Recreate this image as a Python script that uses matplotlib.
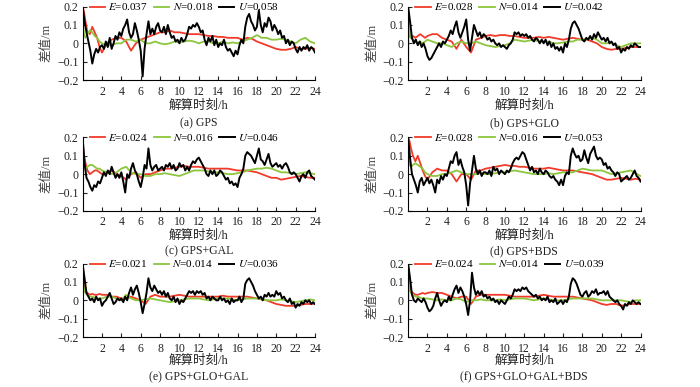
import matplotlib
matplotlib.use('Agg')
import matplotlib.pyplot as plt
import numpy as np
from matplotlib.ticker import FuncFormatter

plt.rcParams['font.family'] = ['Liberation Serif', 'Noto Sans CJK SC']
plt.rcParams['mathtext.fontset'] = 'stix'
plt.rcParams['axes.unicode_minus'] = True

# time grids (h)
t_u = np.arange(0, 24.01, 0.2)
t_en = [0, 0.05, 0.15, 0.3, 0.5, 0.75, 1.0, 1.25, 1.5, 1.75, 2.0] + list(np.arange(2.5, 24.01, 0.5))

captions = ['(a) GPS', '(b) GPS+GLO', '(c) GPS+GAL', '(d) GPS+BDS',
            '(e) GPS+GLO+GAL', '(f) GPS+GLO+GAL+BDS']
rms_e = [0.037, 0.028, 0.024, 0.028, 0.021, 0.024]
rms_n = [0.018, 0.014, 0.016, 0.016, 0.014, 0.014]
rms_u = [0.058, 0.042, 0.046, 0.053, 0.036, 0.039]

# (a) GPS
u_a = [0.20, 0.12, 0.06, 0.01, -0.04, -0.11, -0.06, -0.03, -0.05, -0.02,
       -0.01, -0.03, 0.01, -0.02, 0.03, -0.03, 0.0, 0.04, 0.02, 0.06,
       0.04, 0.08, 0.10, 0.13, 0.06, 0.03, 0.05, 0.11, 0.07, 0.02,
       -0.04, -0.18, -0.03, 0.05, 0.12, 0.05, 0.08, 0.05, 0.09, 0.11,
       0.07, 0.06, 0.09, 0.05, 0.10, 0.06, 0.03, 0.04, 0.01, 0.02,
       0.0, 0.03, 0.01, 0.02, 0.05, 0.09, 0.08, 0.10, 0.09, 0.11,
       0.09, 0.06, 0.07, 0.02, -0.01, 0.03, 0.01, 0.04, -0.01, 0.02,
       -0.02, 0.0, -0.01, 0.02, -0.02, -0.04, -0.03, -0.05, -0.07, -0.04,
       -0.06, -0.01, 0.02, 0.0, 0.09, 0.14, 0.16, 0.12, 0.10, 0.07,
       0.09, 0.18, 0.10, 0.06, 0.11, 0.09, 0.14, 0.12, 0.07, 0.10,
       0.08, 0.05, 0.07, 0.03, 0.04, 0.0, 0.02, -0.01, 0.01, 0.0,
       -0.03, -0.05, -0.02, -0.04, -0.02, -0.03, -0.01, -0.04, -0.02, -0.03,
       -0.05]
e_a = [0.2, 0.19, 0.17, 0.12, 0.06, 0.05, 0.09, 0.06, 0.03, -0.02, -0.05,
       0.0, 0.02, 0.03, 0.03, 0.01, -0.04, 0.0, 0.02, 0.03, 0.04,
       0.05, 0.06, 0.06, 0.07, 0.06, 0.06, 0.055, 0.05, 0.05, 0.05,
       0.045, 0.04, 0.04, 0.035, 0.035, 0.03, 0.03, 0.03, 0.02, 0.03,
       0.025, 0.01, 0.0, -0.01, -0.02, -0.03, -0.035, -0.035, -0.03, -0.02,
       -0.03, -0.03, -0.025, -0.03]
n_a = [0.2, 0.1, 0.05, 0.03, 0.05, 0.07, 0.06, 0.04, 0.03, 0.01, 0.0,
       -0.01, -0.01, 0.0, 0.0, 0.02, 0.02, 0.01, 0.02, 0.0, 0.0,
       0.01, 0.0, -0.005, 0.0, 0.01, 0.005, 0.01, 0.015, 0.01, 0.0,
       0.01, 0.01, 0.0, 0.0, 0.01, 0.0, 0.005, 0.0, 0.01, 0.02,
       0.03, 0.045, 0.03, 0.03, 0.02, 0.02, 0.025, 0.02, 0.01, 0.0,
       0.02, 0.03, 0.01, 0.0]

# (b) GPS+GLO
u_b = [0.20, 0.12, 0.03, 0.0, 0.02, -0.01, 0.01, -0.02, 0.0, -0.03,
       -0.07, -0.09, -0.08, -0.06, -0.04, -0.02, 0.0, -0.02, 0.01, 0.0,
       0.02, 0.04, 0.07, 0.05, 0.09, 0.12, 0.06, 0.03, 0.06, 0.09,
       0.13, 0.02, -0.04, 0.03, 0.10, 0.07, 0.04, 0.06, 0.03, 0.05,
       0.04, 0.02, 0.03, 0.01, 0.02, 0.0, -0.01, 0.0, -0.02, -0.01,
       -0.02, -0.03, -0.01, 0.0, 0.02, 0.06, 0.05, 0.06, 0.04, 0.05,
       0.04, 0.05, 0.03, 0.04, 0.02, 0.01, 0.03, 0.02, 0.0, 0.02,
       0.0, 0.02, -0.01, 0.01, -0.02, 0.0, -0.03, -0.02, -0.04, -0.02,
       -0.05, 0.0, -0.02, 0.02, 0.08, 0.11, 0.12, 0.10, 0.08, 0.05,
       0.02, 0.01, 0.03, 0.02, 0.04, 0.02, 0.05, 0.03, 0.06, 0.04,
       0.02, 0.03, 0.01, 0.03, 0.0, 0.01, -0.01, 0.0, -0.03, -0.02,
       -0.05, -0.03, -0.04, -0.02, -0.03, -0.01, -0.02, 0.0, -0.01, -0.02,
       -0.02]
e_b = [0.2, 0.08, 0.04, 0.03, 0.04, 0.03, 0.04, 0.05, 0.04, 0.03, 0.04,
       0.05, 0.05, 0.03, 0.02, 0.01, -0.03, 0.02, -0.02, -0.05, 0.02,
       0.03, 0.04, 0.045, 0.04, 0.045, 0.045, 0.04, 0.04, 0.035, 0.03,
       0.03, 0.03, 0.035, 0.03, 0.035, 0.03, 0.025, 0.02, 0.025, 0.03,
       0.025, 0.02, 0.02, 0.01, 0.0, -0.02, -0.03, -0.035, -0.03, -0.03,
       -0.025, -0.02, -0.02, -0.02]
n_b = [-0.15, 0.1, 0.06, 0.03, 0.02, 0.01, 0.0, 0.01, 0.0, 0.01, 0.02,
       0.01, 0.0, 0.0, -0.01, -0.02, 0.0, 0.01, 0.0, 0.0, 0.01,
       0.0, -0.01, -0.015, -0.02, -0.015, -0.01, 0.0, 0.02, 0.015, 0.01,
       0.015, 0.02, 0.01, 0.01, 0.01, 0.0, 0.0, 0.005, 0.01, 0.01,
       0.02, 0.02, 0.025, 0.03, 0.02, 0.0, 0.0, 0.005, -0.01, -0.02,
       -0.01, 0.0, 0.0, 0.0]

# (c) GPS+GAL
u_c = [0.20, 0.06, -0.02, -0.04, -0.07, -0.09, -0.06, -0.07, -0.04, -0.05,
       -0.02, 0.01, -0.01, 0.02, 0.0, 0.04, 0.01, -0.02, 0.0, -0.02,
       0.01, -0.04, -0.10, 0.0, -0.02, 0.03, 0.06, 0.02, 0.0, -0.04,
       -0.07, -0.02, 0.05, 0.03, 0.14, 0.05, 0.02, 0.04, 0.05, 0.02,
       0.03, 0.04, 0.02, 0.05, 0.04, 0.06, 0.03, 0.05, 0.02, 0.03,
       0.06, 0.04, 0.05, 0.02, 0.04, 0.02, 0.05, 0.07, 0.06, 0.08,
       0.09, 0.07, 0.05, 0.03, 0.0, -0.01, 0.02, 0.0, 0.02, -0.01,
       0.0, 0.02, 0.01, -0.01, -0.03, -0.02, -0.05, -0.04, -0.06, -0.05,
       -0.07, -0.02, 0.0, 0.03, 0.10, 0.12, 0.11, 0.10, 0.08, 0.06,
       0.10, 0.14, 0.08, 0.07, 0.05, 0.08, 0.11, 0.06, 0.04, 0.05,
       0.06, 0.04, 0.05, 0.03, 0.05, 0.06, 0.04, 0.01, 0.0, 0.01,
       0.0, -0.02, -0.04, -0.01, 0.0, -0.02, 0.01, 0.02, -0.01, -0.02,
       -0.03]
e_c = [0.2, 0.15, 0.1, 0.06, 0.02, 0.0, 0.01, 0.02, 0.02, 0.01, 0.0,
       0.01, 0.02, 0.0, -0.01, -0.03, 0.0, 0.01, -0.02, 0.0, 0.0,
       0.01, 0.02, 0.03, 0.03, 0.035, 0.04, 0.045, 0.04, 0.04, 0.04,
       0.035, 0.03, 0.03, 0.03, 0.03, 0.03, 0.025, 0.02, 0.02, 0.02,
       0.015, 0.01, 0.0, -0.01, -0.02, -0.02, -0.03, -0.025, -0.02, -0.015,
       -0.01, -0.015, -0.02, -0.02]
n_c = [0.2, 0.08, 0.04, 0.03, 0.04, 0.05, 0.05, 0.04, 0.03, 0.03, 0.02,
       0.01, 0.0, 0.01, 0.03, 0.04, 0.01, 0.0, 0.0, -0.01, -0.01,
       0.0, 0.0, 0.005, 0.0, -0.005, -0.01, 0.0, 0.01, 0.02, 0.02,
       0.02, 0.015, 0.01, 0.01, 0.005, 0.0, 0.0, 0.005, 0.01, 0.02,
       0.025, 0.03, 0.03, 0.035, 0.03, 0.02, 0.01, 0.01, 0.005, 0.0,
       0.005, 0.01, 0.005, 0.0]

# (d) GPS+BDS
u_d = [0.20, 0.09, 0.0, -0.03, -0.06, -0.10, -0.04, -0.02, -0.06, -0.04,
       -0.02, -0.05, -0.03, -0.06, -0.10, -0.03, -0.05, -0.01, -0.03, 0.0,
       -0.01, 0.03, 0.07, 0.06, 0.10, 0.12, 0.05, 0.08, 0.04, 0.01,
       -0.06, -0.17, -0.05, 0.02, 0.10, 0.03, 0.0, 0.02, -0.01, 0.01,
       0.01, 0.0, 0.02, -0.01, 0.04, 0.02, 0.03, 0.0, 0.02, 0.01,
       0.0, 0.02, 0.01, 0.03, 0.06, 0.08, 0.09, 0.08, 0.10, 0.12,
       0.11, 0.08, 0.05, 0.02, 0.04, 0.01, 0.02, 0.0, 0.03, 0.01,
       0.0, 0.02, 0.01, -0.01, -0.02, -0.01, -0.03, -0.04, -0.06, -0.03,
       -0.06, -0.01, 0.01, 0.0, 0.10, 0.14, 0.11, 0.09, 0.10, 0.07,
       0.08, 0.13, 0.09, 0.06, 0.11, 0.13, 0.15, 0.10, 0.08, 0.09,
       0.08, 0.05, 0.06, 0.03, 0.04, 0.02, 0.01, -0.01, 0.01, 0.0,
       -0.04, -0.03, -0.02, -0.01, -0.03, -0.02, 0.0, 0.02, -0.01, -0.02,
       -0.04]
e_d = [0.2, 0.19, 0.18, 0.14, 0.1, 0.07, 0.1, 0.06, 0.02, -0.01, -0.03,
       0.01, 0.03, 0.02, 0.02, 0.0, -0.04, 0.0, 0.0, -0.03, 0.02,
       0.02, 0.03, 0.035, 0.04, 0.045, 0.05, 0.045, 0.045, 0.04, 0.04,
       0.035, 0.03, 0.03, 0.03, 0.035, 0.03, 0.025, 0.02, 0.02, 0.02,
       0.015, 0.01, 0.005, 0.0, -0.01, -0.02, -0.03, -0.03, -0.025, -0.02,
       -0.025, -0.03, -0.025, -0.03]
n_d = [0.2, 0.1, 0.05, 0.04, 0.05, 0.06, 0.05, 0.04, 0.03, 0.01, 0.0,
       -0.01, -0.01, 0.0, 0.0, 0.01, 0.02, 0.01, 0.0, 0.0, 0.0,
       0.005, 0.0, 0.0, 0.005, 0.01, 0.01, 0.015, 0.02, 0.015, 0.01,
       0.005, 0.0, 0.0, 0.0, 0.005, 0.0, 0.005, 0.01, 0.01, 0.01,
       0.02, 0.03, 0.025, 0.02, 0.02, 0.02, 0.01, 0.0, 0.005, 0.01,
       0.015, 0.02, 0.005, -0.01]

# (e) GPS+GLO+GAL
u_e = [0.20, 0.12, 0.04, 0.02, 0.0, 0.01, -0.01, 0.02, 0.0, 0.01,
       -0.03, -0.01, 0.0, 0.02, 0.04, 0.01, -0.02, -0.01, 0.01, 0.0,
       0.01, -0.01, 0.02, 0.0, 0.04, 0.07, 0.03, 0.06, 0.08, 0.04,
       -0.01, -0.07, -0.02, 0.04, 0.12, 0.07, 0.05, 0.08, 0.06, 0.04,
       0.05, 0.03, 0.05, 0.02, 0.04, 0.01, 0.0, 0.02, -0.01, 0.01,
       -0.02, 0.0, -0.01, 0.01, 0.03, 0.05, 0.04, 0.05, 0.03, 0.05,
       0.04, 0.05, 0.03, 0.04, 0.01, 0.02, 0.0, 0.02, 0.01, 0.0,
       0.0, 0.02, 0.0, 0.01, -0.01, 0.0, -0.02, 0.01, -0.01, 0.0,
       0.0, 0.02, -0.01, 0.01, 0.09, 0.11, 0.12, 0.10, 0.08, 0.05,
       0.03, 0.01, 0.02, 0.0, 0.03, 0.02, 0.04, 0.02, 0.03, 0.02,
       0.05, 0.03, 0.04, 0.01, 0.02, 0.0, -0.01, 0.01, -0.02, -0.01,
       -0.04, -0.02, -0.03, -0.01, -0.02, 0.0, -0.01, 0.0, -0.02, -0.01,
       -0.02]
e_e = [0.2, 0.15, 0.08, 0.05, 0.04, 0.03, 0.035, 0.03, 0.03, 0.035, 0.03,
       0.03, 0.02, 0.02, 0.01, 0.01, 0.02, 0.01, 0.0, -0.02, 0.02,
       0.03, 0.02, 0.02, 0.02, 0.025, 0.03, 0.025, 0.02, 0.02, 0.02,
       0.02, 0.02, 0.02, 0.02, 0.025, 0.02, 0.02, 0.02, 0.02, 0.02,
       0.015, 0.01, 0.005, 0.0, -0.01, -0.02, -0.025, -0.03, -0.03, -0.03,
       -0.025, -0.02, -0.02, -0.02]
n_e = [-0.17, 0.1, 0.06, 0.04, 0.03, 0.02, 0.02, 0.015, 0.01, 0.01, 0.01,
       0.02, 0.02, 0.01, 0.0, 0.03, 0.01, 0.0, 0.0, 0.005, 0.01,
       0.005, 0.0, -0.005, -0.01, -0.005, 0.0, 0.005, 0.01, 0.01, 0.01,
       0.005, 0.0, 0.005, 0.01, 0.01, 0.01, 0.005, 0.0, 0.005, 0.01,
       0.01, 0.01, 0.005, 0.0, 0.0, 0.0, 0.005, 0.0, -0.005, -0.01,
       -0.005, 0.0, 0.005, 0.0]

# (f) GPS+GLO+GAL+BDS
u_f = [0.20, 0.12, 0.03, 0.0, -0.01, 0.01, 0.0, -0.01, 0.01, -0.01,
       -0.04, -0.06, -0.05, -0.03, 0.01, 0.04, 0.0, -0.03, -0.01, 0.0,
       -0.01, 0.02, 0.0, 0.03, 0.06, 0.08, 0.04, 0.07, 0.05, 0.02,
       -0.02, -0.08, 0.0, 0.15, 0.07, 0.03, 0.05, 0.03, 0.05, 0.02,
       0.03, 0.01, 0.02, 0.0, 0.01, -0.01, 0.0, -0.02, 0.0, -0.01,
       -0.02, 0.0, 0.02, 0.01, 0.03, 0.06, 0.05, 0.06, 0.05, 0.07,
       0.06, 0.07, 0.05, 0.04, 0.03, 0.02, 0.03, 0.01, 0.02, 0.0,
       0.01, 0.0, 0.02, -0.01, 0.0, -0.01, 0.01, -0.02, -0.01, 0.0,
       -0.02, 0.0, -0.01, 0.02, 0.09, 0.12, 0.11, 0.09, 0.06, 0.03,
       0.02, 0.04, 0.05, 0.02, 0.03, 0.05, 0.04, 0.06, 0.03, 0.04,
       0.04, 0.05, 0.03, 0.05, 0.02, 0.01, 0.0, -0.01, 0.0, -0.02,
       -0.03, -0.05, -0.02, -0.03, -0.01, -0.02, 0.0, -0.01, -0.02, -0.01,
       -0.02]
e_f = [0.2, 0.15, 0.07, 0.05, 0.04, 0.03, 0.03, 0.035, 0.04, 0.035, 0.04,
       0.045, 0.04, 0.04, 0.03, 0.02, 0.01, 0.02, 0.02, -0.02, 0.02,
       0.03, 0.03, 0.03, 0.03, 0.03, 0.03, 0.025, 0.02, 0.02, 0.02,
       0.02, 0.02, 0.025, 0.03, 0.025, 0.02, 0.02, 0.02, 0.02, 0.02,
       0.015, 0.01, 0.005, 0.0, -0.01, -0.02, -0.025, -0.02, -0.02, -0.03,
       -0.025, -0.02, -0.02, -0.02]
n_f = [-0.17, 0.12, 0.06, 0.04, 0.03, 0.02, 0.02, 0.015, 0.01, 0.01, 0.01,
       0.005, 0.0, 0.005, 0.0, 0.0, 0.01, 0.005, -0.01, 0.0, 0.0,
       0.005, 0.0, 0.0, 0.0, 0.005, 0.0, 0.005, 0.01, 0.01, 0.01,
       0.005, 0.0, 0.005, 0.01, 0.005, 0.0, 0.0, 0.0, 0.005, 0.01,
       0.01, 0.01, 0.01, 0.01, 0.005, 0.0, 0.0, 0.0, 0.0, 0.0,
       -0.005, -0.01, 0.0, 0.0]

u_all = [u_a, u_b, u_c, u_d, u_e, u_f]
e_all = [e_a, e_b, e_c, e_d, e_e, e_f]
n_all = [n_a, n_b, n_c, n_d, n_e, n_f]

red = '#f23a2a'
green = '#8cc63e'
txt = '#222222'

def fmt(v, pos):
    if abs(v) < 1e-9:
        return '0'
    return ('%.1f' % v).replace('-', '\u2212')

fig = plt.figure(figsize=(7, 3.87), dpi=100)
lefts = [0.118, 0.583]
bottoms = [0.793, 0.455, 0.129]
W, H = 0.332, 0.19
# vertical pixel positions (from top) of the x-label and caption for each row
xlab_px = [106, 236, 361]
cap_px = [123, 251, 377]

for i in range(6):
    col, row = i % 2, i // 2
    ax = fig.add_axes([lefts[col], bottoms[row], W, H])
    ax.plot(t_en, e_all[i], color=red, lw=1.3, label=r'$E$=%.3f' % rms_e[i])
    ax.plot(t_en, n_all[i], color=green, lw=1.3, label=r'$N$=%.3f' % rms_n[i])
    ax.plot(t_u, u_all[i], color='black', lw=1.4, label=r'$U$=%.3f' % rms_u[i])
    ax.set_xlim(0, 24)
    ax.set_ylim(-0.2, 0.2)
    ax.set_xticks(range(2, 25, 2))
    ax.set_yticks([-0.2, -0.1, 0, 0.1, 0.2])
    ax.yaxis.set_major_formatter(FuncFormatter(fmt))
    ax.tick_params(direction='in', length=3, width=0.8, labelsize=8.5, colors=txt)
    ax.tick_params(axis='x', pad=4)
    ax.tick_params(axis='y', pad=3)
    for s in ['top', 'right']:
        ax.spines[s].set_visible(False)
    ax.set_ylabel('差值/m', fontsize=9, color='#444444', labelpad=3)
    xc = lefts[col] + W / 2
    fig.text(xc, 1 - xlab_px[row] / 387, '解算时刻/h', ha='center', va='center',
             fontsize=9, color=txt)
    fig.text(xc, 1 - cap_px[row] / 387, captions[i], ha='center', va='center',
             fontsize=8.5, color=txt)
    ax.legend(loc='upper left', bbox_to_anchor=(0.03, 1.07), ncol=3, frameon=False,
              fontsize=8, handlelength=1.4, handletextpad=0.3, columnspacing=0.5,
              borderpad=0, borderaxespad=0)

fig.savefig('out.png', dpi=100)
